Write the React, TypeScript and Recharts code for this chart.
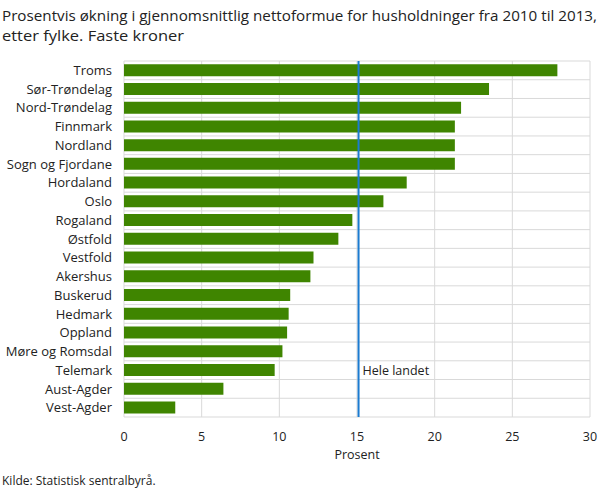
import React from 'react';
import {
  BarChart,
  Bar,
  XAxis,
  YAxis,
  CartesianGrid,
  ReferenceLine,
} from 'recharts';

const fylker = [
  'Troms',
  'Sør-Trøndelag',
  'Nord-Trøndelag',
  'Finnmark',
  'Nordland',
  'Sogn og Fjordane',
  'Hordaland',
  'Oslo',
  'Rogaland',
  'Østfold',
  'Vestfold',
  'Akershus',
  'Buskerud',
  'Hedmark',
  'Oppland',
  'Møre og Romsdal',
  'Telemark',
  'Aust-Agder',
  'Vest-Agder',
];

const okning = [
  27.9, 23.5, 21.7, 21.3, 21.3, 21.3, 18.2, 16.7, 14.7, 13.8, 12.2, 12.0, 10.7,
  10.6, 10.5, 10.2, 9.7, 6.4, 3.3,
];

const xTicks = [0, 5, 10, 15, 20, 25, 30];
const heleLandet = 15.1;

const data = fylker.map((name, i) => ({ name, value: okning[i] }));

const FONT = '"Open Sans", "DejaVu Sans", sans-serif';

const HeleLandetLabel = (props: any) => {
  const { viewBox } = props;
  const bandH = viewBox.height / fylker.length;
  const y = viewBox.y + bandH * (fylker.indexOf('Telemark') + 0.5);
  return (
    <text
      x={viewBox.x + 4}
      y={y}
      dy="0.35em"
      fontSize={12.5}
      fontFamily={FONT}
      fill="#222"
    >
      Hele landet
    </text>
  );
};

export default function App() {
  return (
    <div
      style={{
        position: 'absolute',
        left: 0,
        top: 0,
        width: 610,
        height: 489,
        background: '#fff',
        fontFamily: FONT,
      }}
    >
      <svg
        width={610}
        height={50}
        style={{ position: 'absolute', left: 0, top: 0 }}
      >
        <text
          x={2}
          y={21}
          fontSize={15}
          fontFamily={FONT}
          fill="#222"
          textLength={595}
          lengthAdjust="spacingAndGlyphs"
        >
          Prosentvis økning i gjennomsnittlig nettoformue for husholdninger fra
          2010 til 2013,
        </text>
        <text
          x={2}
          y={41}
          fontSize={15}
          fontFamily={FONT}
          fill="#222"
          textLength={182}
          lengthAdjust="spacingAndGlyphs"
        >
          etter fylke. Faste kroner
        </text>
      </svg>
      <div style={{ position: 'absolute', left: 0, top: 0 }}>
        <BarChart
          width={610}
          height={489}
          data={data}
          layout="vertical"
          margin={{ top: 61, right: 20, bottom: 28, left: 0 }}
          barCategoryGap="17%"
        >
          <CartesianGrid
            stroke="#d9d9d9"
            strokeWidth={1}
            horizontalCoordinatesGenerator={({ offset }: any) =>
              Array.from(
                { length: fylker.length + 1 },
                (_, i) => offset.top + (offset.height / fylker.length) * i
              )
            }
          />
          <XAxis
            type="number"
            domain={[0, 30]}
            ticks={xTicks}
            axisLine={false}
            tickLine={false}
            tickSize={0}
            tickMargin={15}
            height={44}
            tick={{ fontSize: 12.5, fill: '#222', fontFamily: FONT }}
            label={{
              value: 'Prosent',
              position: 'insideBottom',
              offset: 2,
              fontSize: 12.5,
              fill: '#222',
              fontFamily: FONT,
            }}
          />
          <YAxis
            type="category"
            dataKey="name"
            width={124}
            axisLine={false}
            tickLine={false}
            tickSize={0}
            tickMargin={12}
            interval={0}
            tick={{ fontSize: 13, fill: '#222', fontFamily: FONT }}
          />
          <Bar dataKey="value" fill="#3f8500" isAnimationActive={false} />
          <ReferenceLine
            x={heleLandet}
            stroke="#1b7bd0"
            strokeWidth={2}
            label={<HeleLandetLabel />}
          />
        </BarChart>
      </div>
      <div
        style={{
          position: 'absolute',
          left: 2,
          top: 474,
          fontSize: 12,
          color: '#222',
          fontFamily: FONT,
          lineHeight: '14px',
        }}
      >
        Kilde: Statistisk sentralbyrå.
      </div>
    </div>
  );
}
